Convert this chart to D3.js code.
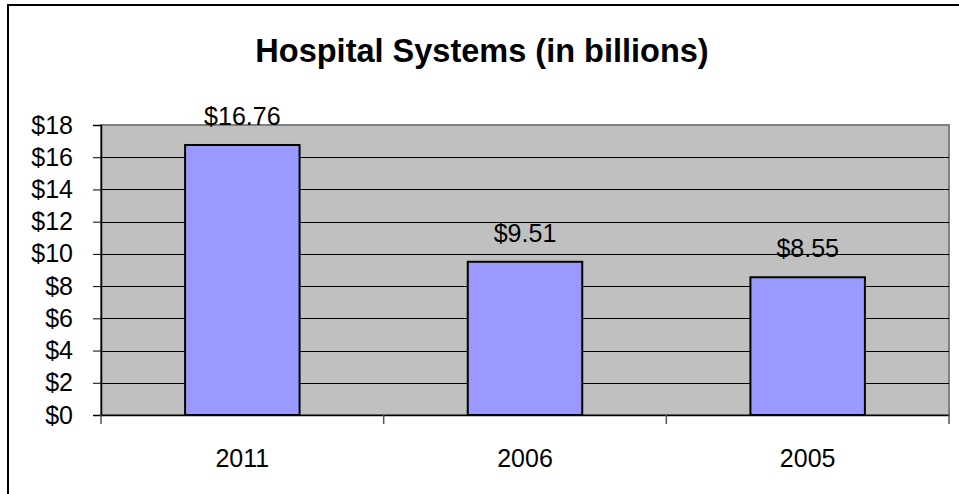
<!DOCTYPE html>
<html>
<head>
<meta charset="utf-8">
<script src="https://cdn.jsdelivr.net/npm/d3@7"></script>
<style>
  body { margin: 0; background: #fff; }
  svg { display: block; font-family: "Liberation Sans", Arial, sans-serif; }
</style>
</head>
<body>
<svg id="chart" width="959" height="494"></svg>
<script>
const categories = ["2011", "2006", "2005"];
const values = [16.76, 9.51, 8.55];
const yTicks = [0, 2, 4, 6, 8, 10, 12, 14, 16, 18];
const chartTitle = "Hospital Systems (in billions)";

const svg = d3.select("#chart");
const plot = { left: 101, top: 125, right: 949, bottom: 415 };

// outer frame (runs off right/bottom edges like the source)
svg.append("rect")
    .attr("x", 8).attr("y", 5)
    .attr("width", 980).attr("height", 520)
    .attr("fill", "none")
    .attr("stroke", "#000")
    .attr("stroke-width", 2);

svg.append("text")
    .attr("x", 482).attr("y", 62)
    .attr("text-anchor", "middle")
    .attr("font-size", 32.5)
    .attr("font-weight", "bold")
    .text(chartTitle);

const x = d3.scaleBand().domain(categories).range([plot.left, plot.right]).paddingInner(0).paddingOuter(0);
const y = d3.scaleLinear().domain([0, 18]).range([plot.bottom, plot.top]);

// plot background
svg.append("rect")
    .attr("x", plot.left).attr("y", plot.top)
    .attr("width", plot.right - plot.left).attr("height", plot.bottom - plot.top)
    .attr("fill", "#c0c0c0")
    .attr("stroke", "#808080")
    .attr("stroke-width", 2);

// gridlines
svg.append("g")
    .selectAll("line")
    .data(yTicks.filter(d => d > 0 && d < 18))
    .join("line")
    .attr("x1", plot.left).attr("x2", plot.right)
    .attr("y1", d => Math.round(y(d)) + 0.5).attr("y2", d => Math.round(y(d)) + 0.5)
    .attr("stroke", "#000")
    .attr("stroke-width", 1);

// y axis
const yAxis = svg.append("g")
    .attr("transform", `translate(${plot.left},0)`)
    .call(d3.axisLeft(y).tickValues(yTicks).tickSize(8).tickPadding(20).tickFormat(d => "$" + d));
yAxis.select(".domain").attr("stroke", "#000").attr("stroke-width", 1.5);
yAxis.selectAll(".tick line").attr("stroke", "#000");
yAxis.selectAll(".tick text")
    .attr("font-size", 25)
    .attr("font-family", "Liberation Sans, Arial, sans-serif")
    .attr("fill", "#000");

// bars
const barW = x.bandwidth() * 0.405;
svg.append("g")
    .selectAll("rect")
    .data(values)
    .join("rect")
    .attr("x", (d, i) => x(categories[i]) + (x.bandwidth() - barW) / 2)
    .attr("y", d => y(d))
    .attr("width", barW)
    .attr("height", d => y(0) - y(d))
    .attr("fill", "#9999ff")
    .attr("stroke", "#000")
    .attr("stroke-width", 2);

// value labels
svg.append("g")
    .selectAll("text")
    .data(values)
    .join("text")
    .attr("x", (d, i) => x(categories[i]) + x.bandwidth() / 2)
    .attr("y", d => y(d) - 20)
    .attr("text-anchor", "middle")
    .attr("font-size", 25)
    .text(d => "$" + d.toFixed(2));

// x axis
const xAxis = svg.append("g")
    .attr("transform", `translate(0,${plot.bottom})`)
    .call(d3.axisBottom(x).tickSize(0).tickPadding(34));
xAxis.select(".domain").attr("stroke", "#000").attr("stroke-width", 1.5);
xAxis.selectAll(".tick text")
    .attr("font-size", 25)
    .attr("font-family", "Liberation Sans, Arial, sans-serif")
    .attr("fill", "#000");

// category separators below the axis
svg.append("g")
    .selectAll("line")
    .data([...categories.map(c => x(c)), plot.right])
    .join("line")
    .attr("x1", d => d).attr("x2", d => d)
    .attr("y1", plot.bottom).attr("y2", plot.bottom + 9)
    .attr("stroke", "#555")
    .attr("stroke-width", 1.5);
</script>
</body>
</html>
